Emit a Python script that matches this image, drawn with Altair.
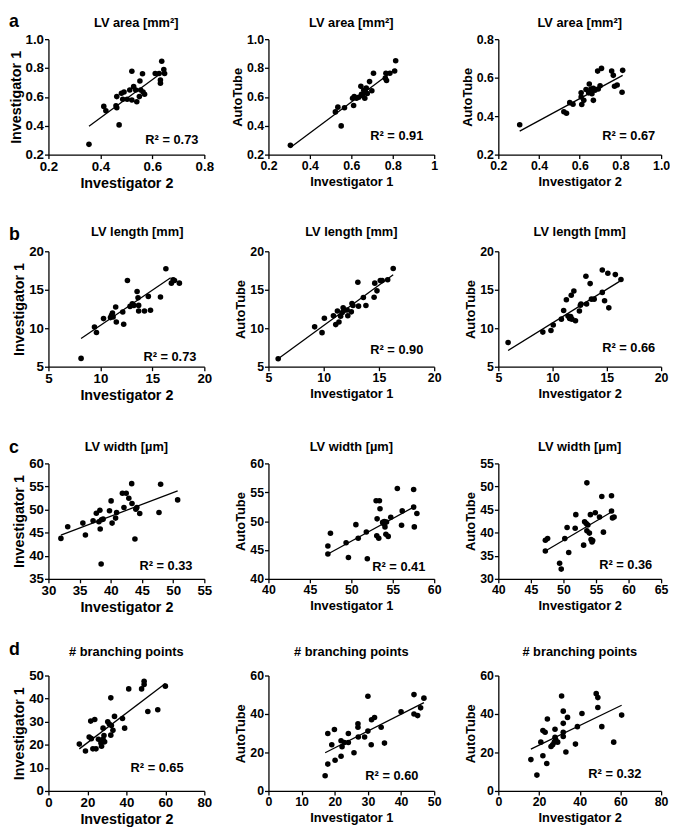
import altair as alt
import pandas as pd

FONT = "Liberation Sans"

# ---------------- data ----------------
a1_x = [0.356,0.413,0.421,0.46,0.463,0.463,0.472,0.481,0.486,0.491,0.503,0.513,0.521,0.521,0.528,0.536,0.54,0.55,0.555,0.562,0.552,0.564,0.57,0.611,0.626,0.631,0.631,0.636,0.644,0.647]
a1_y = [0.271,0.534,0.504,0.538,0.602,0.525,0.406,0.625,0.584,0.634,0.584,0.648,0.778,0.579,0.671,0.648,0.566,0.602,0.648,0.76,0.71,0.634,0.618,0.762,0.762,0.717,0.694,0.847,0.79,0.762]
a1_fx = [0.356, 0.636]
a1_fy = [0.397, 0.767]

a2_x = [0.306,0.523,0.535,0.551,0.567,0.611,0.606,0.614,0.625,0.636,0.646,0.654,0.66,0.665,0.668,0.672,0.677,0.688,0.699,0.707,0.767,0.764,0.77,0.786,0.809,0.814,0.649]
a2_y = [0.264,0.496,0.529,0.399,0.525,0.54,0.591,0.602,0.591,0.598,0.673,0.609,0.646,0.591,0.631,0.662,0.624,0.706,0.642,0.764,0.764,0.73,0.713,0.764,0.779,0.85,0.618]
a2_fx = [0.306, 0.814]
a2_fy = [0.249, 0.794]

a3_x = [0.305,0.522,0.535,0.551,0.567,0.607,0.607,0.61,0.62,0.631,0.644,0.647,0.655,0.66,0.667,0.667,0.675,0.691,0.688,0.707,0.7,0.757,0.765,0.771,0.784,0.808,0.811]
a3_y = [0.355,0.423,0.415,0.47,0.462,0.521,0.499,0.46,0.482,0.538,0.521,0.567,0.541,0.516,0.545,0.482,0.535,0.541,0.634,0.648,0.558,0.634,0.612,0.555,0.562,0.524,0.638]
a3_fx = [0.305, 0.811]
a3_fy = [0.322, 0.612]

b1_x = [8.14,9.43,9.62,10.3,10.97,11.07,11.16,11.22,11.47,11.53,12.15,12.24,12.6,12.85,13.07,13.22,13.53,13.62,13.68,13.68,14.24,14.61,14.82,15.78,16.3,16.83,17.0,17.13,17.6]
b1_y = [6.08,10.17,9.44,11.25,11.38,11.68,11.98,11.47,12.76,10.82,12.11,10.52,16.2,12.84,13.19,12.97,14.78,13.97,12.97,12.24,12.24,14.14,12.33,14.05,17.72,15.86,16.3,16.2,15.86]
b1_fx = [8.14, 16.76]
b1_fy = [8.66, 16.55]

b2_x = [5.88,9.18,9.85,10.06,10.88,11.09,11.24,11.38,11.53,11.68,11.76,11.88,12.12,12.18,12.5,12.56,12.65,13.09,13.15,13.59,13.82,14.56,14.62,14.82,15.12,15.29,15.79,16.29]
b2_y = [6.04,10.18,9.43,11.3,11.63,10.47,12.25,10.8,11.55,12.05,12.67,12.34,12.38,11.63,12.13,13.2,12.96,15.98,12.87,13.99,12.96,14.03,15.86,14.86,16.19,16.19,16.31,17.76]
b2_fx = [5.88, 16.29]
b2_fy = [6.04, 16.94]

b3_x = [5.9,9.1,9.85,10.06,10.81,11.02,11.27,11.42,11.57,11.66,11.78,11.72,11.96,12.11,12.47,12.56,12.62,13.07,13.13,13.46,13.58,13.83,14.58,14.58,14.79,15.09,15.18,15.78,16.3]
b3_y = [8.15,9.5,9.71,10.42,11.18,12.31,13.7,11.6,11.26,11.51,11.18,14.29,14.83,10.97,12.23,12.98,13.15,16.76,13.15,15.8,13.78,13.78,17.56,14.66,13.57,17.14,12.65,16.97,16.34]
b3_fx = [5.9, 16.17]
b3_fy = [7.1, 16.09]

c1_x = [32.0,33.09,35.52,35.93,37.16,37.68,38.09,38.25,38.3,38.45,38.5,38.76,39.79,40.05,40.21,40.77,40.93,41.86,42.11,42.47,42.89,43.35,43.4,43.87,44.02,44.18,44.64,47.73,47.99,50.72]
c1_y = [43.76,46.28,47.07,44.48,47.57,49.22,47.36,49.87,45.78,38.23,47.79,47.93,49.73,51.88,47.07,48.15,49.37,53.53,50.45,53.53,52.46,55.62,51.31,43.62,50.09,50.45,49.15,49.37,55.47,52.1]
c1_fx = [32.0, 50.72]
c1_fy = [44.48, 54.04]

c2_x = [47.17,47.17,47.48,49.37,49.65,50.55,50.83,51.81,51.93,52.99,53.07,53.11,53.31,53.39,53.46,53.78,53.9,53.98,54.06,54.17,54.25,54.45,54.76,55.55,56.14,56.06,57.52,57.52,57.6,57.91]
c2_y = [44.31,45.69,47.9,46.24,43.7,49.39,47.02,48.12,43.48,53.54,47.46,50.39,47.02,53.54,52.15,49.78,49.56,49.94,49.0,47.73,49.83,47.35,50.66,55.64,51.77,49.28,55.47,52.43,49.0,51.33]
c2_fx = [47.17, 57.52]
c2_fy = [44.31, 52.43]

c3_x = [47.22,47.22,47.57,49.41,49.66,50.21,50.56,50.81,51.9,51.8,53.1,53.25,53.5,53.6,53.75,53.6,53.99,54.14,54.24,54.39,54.49,54.89,55.54,55.89,56.14,57.38,57.38,57.53,57.78]
c3_y = [36.04,38.36,38.71,33.37,32.11,38.71,41.1,35.69,43.9,40.96,37.3,42.36,42.0,50.79,41.66,40.39,39.9,43.9,38.5,38.0,38.29,44.33,43.41,47.84,40.11,47.98,44.68,43.2,43.41]
c3_fx = [47.22, 57.38]
c3_fy = [36.04, 44.47]

d1_x = [15.84,19.0,20.9,21.7,22.0,22.8,23.76,24.4,25.66,26.93,27.25,28.04,28.04,28.5,28.83,30.42,31.2,32.0,32.0,32.3,33.1,33.9,38.0,39.1,41.2,47.8,49.1,49.1,51.0,56.1,60.0]
d1_y = [20.3,17.27,23.34,30.25,22.65,18.23,30.94,18.23,22.38,20.72,19.34,27.2,22.38,24.03,21.27,29.97,29.0,40.33,24.17,28.3,26.24,32.3,31.35,27.2,44.2,44.2,47.5,46.1,34.4,35.2,45.4]
d1_fx = [15.84, 60.0]
d1_fy = [18.23, 46.5]

d2_x = [17.1,17.9,17.9,19.1,19.9,20.1,21.9,21.9,22.2,22.9,24.1,24.1,25.8,27.0,27.0,27.1,29.0,30.0,30.0,31.0,31.1,32.0,34.0,35.0,40.0,43.9,43.9,45.0,45.9,46.9]
d2_y = [7.9,13.95,29.9,24.0,31.9,15.97,18.0,26.05,23.0,25.2,25.2,29.9,19.83,34.96,33.1,28.07,28.07,49.24,31.1,24.0,36.97,38.15,33.1,24.87,41.18,50.08,40.0,39.16,43.2,48.24]
d2_fx = [17.1, 46.9]
d2_fy = [19.83, 45.88]

d3_x = [16.0,18.95,20.9,21.9,21.9,23.0,23.8,24.1,25.9,26.7,27.5,27.85,27.85,28.2,29.15,31.1,31.9,31.9,31.9,31.9,33.2,34.0,37.9,38.87,41.1,48.1,48.9,48.9,50.85,56.7,60.6]
d3_y = [16.3,8.23,25.37,18.34,31.37,30.5,14.23,37.37,23.14,24.0,25.37,32.06,27.94,26.57,25.37,49.37,41.49,35.14,30.5,28.29,20.23,38.23,24.34,33.43,40.29,50.57,48.52,43.37,33.43,25.37,39.43]
d3_fx = [16.0, 60.6]
d3_fy = [21.77, 44.57]

titles = ["LV area [mm²]", "LV length [mm]", "LV width [µm]", "# branching points"]
row_letters = ["a", "b", "c", "d"]
x_titles = ["Investigator 2", "Investigator 1", "Investigator 2"]
y_titles = ["Investigator 1", "AutoTube", "AutoTube"]
r2_values = [["0.73", "0.91", "0.67"],
             ["0.73", "0.90", "0.66"],
             ["0.33", "0.41", "0.36"],
             ["0.65", "0.60", "0.32"]]

x_ticks = [[[0.2, 0.4, 0.6, 0.8], [0.2, 0.4, 0.6, 0.8, 1.0], [0.2, 0.4, 0.6, 0.8, 1.0]],
           [[5, 10, 15, 20], [5, 10, 15, 20], [5, 10, 15, 20]],
           [[30, 35, 40, 45, 50, 55], [40, 45, 50, 55, 60], [40, 45, 50, 55, 60, 65]],
           [[0, 20, 40, 60, 80], [0, 10, 20, 30, 40, 50], [0, 20, 40, 60, 80]]]
y_ticks = [[[0.2, 0.4, 0.6, 0.8, 1.0], [0.2, 0.4, 0.6, 0.8, 1.0], [0.2, 0.4, 0.6, 0.8]],
           [[5, 10, 15, 20], [5, 10, 15, 20], [5, 10, 15, 20]],
           [[35, 40, 45, 50, 55, 60], [40, 45, 50, 55, 60], [30, 35, 40, 45, 50, 55]],
           [[0, 10, 20, 30, 40, 50], [0, 20, 40, 60], [0, 20, 40, 60]]]

series = [[(a1_x, a1_y, a1_fx, a1_fy), (a2_x, a2_y, a2_fx, a2_fy), (a3_x, a3_y, a3_fx, a3_fy)],
          [(b1_x, b1_y, b1_fx, b1_fy), (b2_x, b2_y, b2_fx, b2_fy), (b3_x, b3_y, b3_fx, b3_fy)],
          [(c1_x, c1_y, c1_fx, c1_fy), (c2_x, c2_y, c2_fx, c2_fy), (c3_x, c3_y, c3_fx, c3_fy)],
          [(d1_x, d1_y, d1_fx, d1_fy), (d2_x, d2_y, d2_fx, d2_fy), (d3_x, d3_y, d3_fx, d3_fy)]]

# ---------------- layout / style ----------------
col_widths = [158, 168, 165]
plot_h = 117
r2_off = [[(6, 15), (11, 19), (6, 19)],
          [(8, 10), (11, 17), (6, 19)],
          [(12, 13), (9, 12), (9, 14)],
          [(21, 23), (16, 15), (20, 17)]]
title_dy = [12, 16, 13, 20]
letter_dy = [12, 11, 11, 21]
title_dx = [[10, 0, 0], [11, 0, 0], [0, 0, 0], [0, 0, 0]]
x_title_pad = [4, 4, 4, 3]


def panel(r, c):
    xs, ys, fx, fy = series[r][c]
    w = col_widths[c]
    lab = 13.5 if c == 0 else 12.5
    tit = 14.5 if c == 0 else 13
    fmt = ".1f" if r == 0 else "d"
    xt, yt = x_ticks[r][c], y_ticks[r][c]
    xaxis_kw = dict(values=xt, title=x_titles[c], labelFontSize=lab, titleFontSize=tit,
                    format=fmt, titlePadding=x_title_pad[r])
    if r == 0 and c == 1:
        xaxis_kw["labelExpr"] = "datum.value == 1 ? '1' : format(datum.value, '.1f')"
    xaxis = alt.Axis(**xaxis_kw)
    yaxis = alt.Axis(values=yt, title=y_titles[c], labelFontSize=lab, titleFontSize=tit, format=fmt)
    xs_ = alt.Scale(domain=[xt[0], xt[-1]], nice=False, zero=False)
    ys_ = alt.Scale(domain=[yt[0], yt[-1]], nice=False, zero=False)

    pts = alt.Chart(pd.DataFrame({"x": xs, "y": ys})).mark_circle(
        size=32, color="black", opacity=1
    ).encode(
        x=alt.X("x:Q", scale=xs_, axis=xaxis),
        y=alt.Y("y:Q", scale=ys_, axis=yaxis),
    )
    fit = alt.Chart(pd.DataFrame({"x": fx, "y": fy})).mark_line(
        color="black", strokeWidth=1.3
    ).encode(
        x=alt.X("x:Q", scale=xs_, axis=xaxis),
        y=alt.Y("y:Q", scale=ys_, axis=yaxis),
    )
    dx, dy = r2_off[r][c]
    r2 = alt.Chart(pd.DataFrame({"t": ["R² = " + r2_values[r][c]]})).mark_text(
        align="right", baseline="middle", font=FONT, fontWeight="bold",
        fontSize=13, color="black"
    ).encode(x=alt.value(w - dx), y=alt.value(plot_h - dy), text="t:N")
    ttl = alt.Chart(pd.DataFrame({"t": [titles[r]]})).mark_text(
        align="center", baseline="alphabetic", font=FONT, fontWeight="bold",
        fontSize=13, color="black"
    ).encode(x=alt.value(w / 2 + title_dx[r][c]), y=alt.value(-title_dy[r]), text="t:N")
    layers = [pts, fit, r2, ttl]
    if c == 0:
        let = alt.Chart(pd.DataFrame({"t": [row_letters[r]]})).mark_text(
            align="left", baseline="alphabetic", font=FONT, fontWeight="bold",
            fontSize=18, color="black"
        ).encode(x=alt.value(-40), y=alt.value(-letter_dy[r]), text="t:N")
        layers.append(let)
    return alt.layer(*layers).properties(width=w, height=plot_h)


panels = [panel(r, c) for r in range(4) for c in range(3)]

chart = alt.concat(
    *panels, columns=3, spacing={"row": 98, "column": 65}, bounds="flush"
).properties(
    padding=0
).configure_view(
    stroke=None
).configure_axis(
    grid=False,
    domainColor="black", domainWidth=1.3,
    tickColor="black", tickWidth=1.3, tickSize=4,
    labelColor="black", labelFont=FONT, labelFontWeight="bold", labelPadding=1,
    titleColor="black", titleFont=FONT, titleFontWeight="bold",
    labelFlush=False, labelOverlap=False,
).configure_axisY(
    titlePadding=2
)

chart.save("out.html", embed_options={"renderer": "svg", "actions": False})
